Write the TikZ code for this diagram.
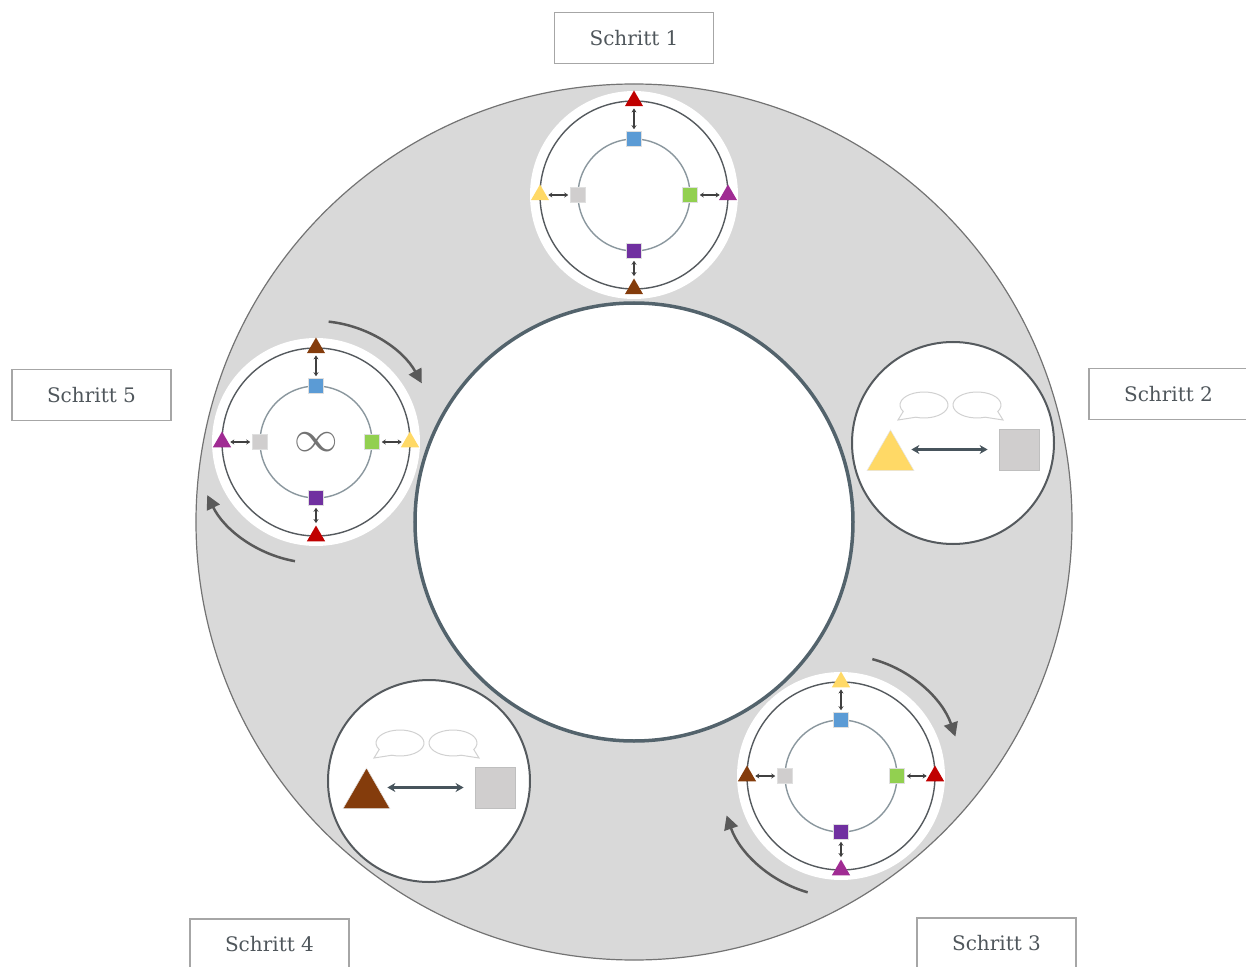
\documentclass[tikz,border=0pt]{standalone}
\usepackage{fontspec}
\setmainfont{DejaVu Serif}
\usetikzlibrary{calc,shapes.geometric,arrows.meta}

\definecolor{wheelgray}{HTML}{D9D9D9}
\definecolor{hubline}{HTML}{53636C}
\definecolor{ringdark}{HTML}{555A5E}
\definecolor{ringlight}{HTML}{8A979E}
\definecolor{labeltext}{HTML}{4F565B}
\definecolor{tred}{HTML}{C00000}
\definecolor{tyellow}{HTML}{FFD966}
\definecolor{tmagenta}{HTML}{A02B93}
\definecolor{tbrown}{HTML}{843C0C}
\definecolor{sqblue}{HTML}{5B9BD5}
\definecolor{sqgreen}{HTML}{92D050}
\definecolor{sqpurple}{HTML}{7030A0}
\definecolor{sqgray}{HTML}{D0CECE}

\tikzset{
	halo/.style={circle, fill=white, minimum size=208pt, inner sep=0pt},
	talkdisc/.style={circle, fill=white, draw=ringdark, line width=2pt, minimum size=202pt, inner sep=0pt},
	outerring/.style={line width=1.4pt, color=ringdark},
	innerring/.style={line width=1.4pt, color=ringlight},
	tri/.style={regular polygon, regular polygon sides=3, minimum size=21pt, inner sep=0pt},
	sq/.style={rectangle, minimum size=15pt, inner sep=0pt, draw=white!75!gray, line width=0.5pt},
	bigtri/.style={regular polygon, regular polygon sides=3, minimum size=54pt, inner sep=0pt, draw=white!80!gray, line width=0.5pt},
	bigsq/.style={rectangle, minimum width=40pt, minimum height=41pt, inner sep=0pt, fill=sqgray, draw=black!25, line width=0.8pt},
	linkarrow/.style={{Stealth[length=4pt,width=5pt]}-{Stealth[length=4pt,width=5pt]}, line width=1.2pt, color=black!75, shorten <=2pt, shorten >=2pt},
	talkarrow/.style={{Stealth[length=8pt,width=9pt]}-{Stealth[length=8pt,width=9pt]}, line width=2.5pt, color=hubline!85!black, shorten <=5pt, shorten >=11pt},
	bubble/.style={line width=1pt, color=black!18},
	turnarrow/.style={-{Triangle[length=14pt,width=14pt]}, line width=2.5pt, color=black!65},
	stepbox/.style={draw=black!35, line width=1.2pt, minimum width=159pt, minimum height=51pt, inner sep=0pt, text=labeltext, font=\fontsize{20}{24}\selectfont},
}

% ring with four triangles (top, right, bottom, left) and four squares
\def\ringstep#1#2#3#4#5#6{%
	\node[halo] (#1) at (#2) {};
	\draw[outerring] (#1.center) circle (94);
	\draw[innerring] (#1.center) circle (56);
	\foreach \ang/\tcol/\scol/\dir in {90/#3/sqblue/n, 0/#4/sqgreen/e, -90/#5/sqpurple/s, 180/#6/sqgray/w}{
		\node[tri, fill=\tcol] (#1t\dir) at ($(#1.center)+(\ang:94)$) {};
		\node[sq, fill=\scol] (#1s\dir) at ($(#1.center)+(\ang:56)$) {};
		\draw[linkarrow] (#1t\dir) -- (#1s\dir);
	}
}

% circle with two speech bubbles, a triangle and a square
\def\talkstep#1#2#3{%
	\node[talkdisc] (#1) at (#2) {};
	\draw[bubble] ($(#1.center)+(-29,38)+(250:24 and 13)$) arc (250:570:24 and 13) -- ($(#1.center)+(-55,23)$) -- cycle;
	\draw[bubble] ($(#1.center)+(24,38)+(330:24 and 13)$) arc (330:650:24 and 13) -- ($(#1.center)+(50,23)$) -- cycle;
	\node[bigtri, fill=#3] (#1tri) at ($(#1.center)+(-62.5,-14)$) {};
	\node[bigsq] (#1sq) at ($(#1.center)+(66,-6.5)$) {};
	\draw[talkarrow] (#1tri.east |- #1sq.west) -- (#1sq.west);
}

\begin{document}
\begin{tikzpicture}[x=1pt, y=1pt]
	%%%%% START %%%%%
	\useasboundingbox (-634,-444) rectangle (612,522);
	
	\draw[fill=wheelgray, draw=black!55, line width=1.2pt] (0,0) circle (438);
	\draw[fill=white, draw=hubline, line width=3.5pt] (0,0) circle (219);
	
	\ringstep{s1}{0,327}{tred}{tmagenta}{tbrown}{tyellow}
	\talkstep{s2}{319,79}{tyellow}
	\ringstep{s3}{207,-254}{tyellow}{tred}{tmagenta}{tbrown}
	\talkstep{s4}{-205,-259}{tbrown}
	\ringstep{s5}{-318,80}{tbrown}{tyellow}{tred}{tmagenta}
	
	\node[text=black!55, font=\fontsize{24.88}{25}\selectfont] (s5inf) at (s5.center) {\scalebox{1.75}{$\infty$}};
	
	\coordinate (s5up) at ($(s5.center)+(84:121)$);
	\coordinate (s5down) at ($(s5.center)+(260:121)$);
	\coordinate (s3up) at ($(s3.center)+(75:121)$);
	\coordinate (s3down) at ($(s3.center)+(254:121)$);
	\draw[turnarrow] (s5up) arc (84:29:121);
	\draw[turnarrow] (s5down) arc (260:206:121);
	\draw[turnarrow] (s3up) arc (75:19:121);
	\draw[turnarrow] (s3down) arc (254:199:121);
	
	\node[stepbox] (l1) at (0,484) {Schritt 1};
	\node[stepbox] (l2) at (534.5,128) {Schritt 2};
	\node[stepbox] (l3) at (362.5,-421.5) {Schritt 3};
	\node[stepbox] (l4) at (-364.5,-422.5) {Schritt 4};
	\node[stepbox] (l5) at (-542.5,127) {Schritt 5};
	
	%%%%% END %%%%%
\end{tikzpicture}
\end{document}
